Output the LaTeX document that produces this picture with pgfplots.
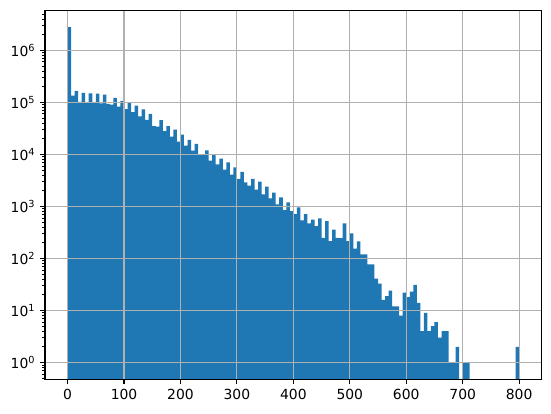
\documentclass[border=0pt]{standalone}
\usepackage{fontspec}
\setmainfont{DejaVu Sans}
\usepackage{pgfplots}
\pgfplotsset{compat=1.18}
\definecolor{barblue}{HTML}{1F77B4}
\definecolor{gridgray}{HTML}{B0B0B0}
\begin{document}
\begin{tikzpicture}
\begin{axis}[
  name=ax,
  scale only axis, width=357.6pt, height=265.7pt,
  xmin=-40, xmax=840,
  ymode=log, ymin=0.476, ymax=5.88e6,
  log origin y=infty,
  axis on top,
  grid=major,
  major grid style={color=gridgray, line width=0.8pt},
  axis line style={line width=0.8pt},
  xtick={0,100,200,300,400,500,600,700,800},
  xticklabels={0,100,200,300,400,500,600,700,800},
  ytick={1,10,100,1000,10000,100000,1000000},
  yticklabels={10\textsuperscript{0},10\textsuperscript{1},10\textsuperscript{2},10\textsuperscript{3},10\textsuperscript{4},10\textsuperscript{5},10\textsuperscript{6}},
  minor ytick={0.5,0.6,0.7,0.8,0.9,2,3,4,5,6,7,8,9,20,30,40,50,60,70,80,90,200,300,400,500,600,700,800,900,2000,3000,4000,5000,6000,7000,8000,9000,2e4,3e4,4e4,5e4,6e4,7e4,8e4,9e4,2e5,3e5,4e5,5e5,6e5,7e5,8e5,9e5,2e6,3e6,4e6,5e6},
  tick align=outside, xtick pos=bottom, ytick pos=left,
  major tick length=3.5pt, minor tick length=2pt,
  major tick style={black, line width=0.8pt},
  minor tick style={black, line width=0.6pt},
  tick label style={font=\fontsize{10}{12}\selectfont, black},
]
\addplot[ybar, bar width=6.25, bar shift=0pt, fill=barblue, draw=none] coordinates {
(3.125,2800000) (9.375,135000) (15.625,166000) (21.875,102000) (28.125,152000)
(34.375,100000) (40.625,148000) (46.875,100000) (53.125,147000) (59.375,96000)
(65.625,140000) (71.875,94000) (78.125,90000) (84.375,122000) (90.625,83000)
(96.875,107000) (103.125,74000) (109.375,100000) (115.625,65000) (121.875,87000)
(128.125,54000) (134.375,73000) (140.625,46000) (146.875,60000) (153.125,35000)
(159.375,34000) (165.625,45500) (171.875,28000) (178.125,35000) (184.375,22000)
(190.625,30000) (196.875,17600) (203.125,24000) (209.375,14700) (215.625,19000)
(221.875,11800) (228.125,16000) (234.375,10000) (240.625,10000) (246.875,12000)
(253.125,7600) (259.375,9700) (265.625,6400) (271.875,8300) (278.125,5100)
(284.375,7000) (290.625,4100) (296.875,5600) (303.125,3400) (309.375,4600)
(315.625,2900) (321.875,2500) (328.125,3400) (334.375,2100) (340.625,3000)
(346.875,1700) (353.125,2400) (359.375,1430) (365.625,1850) (371.875,1100)
(378.125,1500) (384.375,850) (390.625,1200) (396.875,810) (403.125,710)
(409.375,960) (415.625,540) (421.875,710) (428.125,470) (434.375,560)
(440.625,420) (446.875,590) (453.125,250) (459.375,520) (465.625,215)
(471.875,360) (478.125,250) (484.375,245) (490.625,470) (496.875,215)
(503.125,305) (509.375,155) (515.625,214) (521.875,120) (528.125,120)
(534.375,77) (540.625,77) (546.875,41) (553.125,33) (559.375,16)
(565.625,19) (571.875,24) (578.125,12) (584.375,12) (590.625,8)
(596.875,22) (603.125,18) (609.375,23) (615.625,31) (621.875,14)
(628.125,4) (634.375,9) (640.625,4) (646.875,5) (653.125,6)
(659.375,3) (665.625,4) (671.875,4) (678.125,1) (684.375,1)
(690.625,2) (703.125,1) (709.375,1) (796.875,2)
};
\end{axis}
\pgfresetboundingbox
\path[use as bounding box] ([shift={(-32.4pt,-24.3pt)}]ax.south west) rectangle ([shift={(6.7pt,7.4pt)}]ax.north east);
\end{tikzpicture}
\end{document}
